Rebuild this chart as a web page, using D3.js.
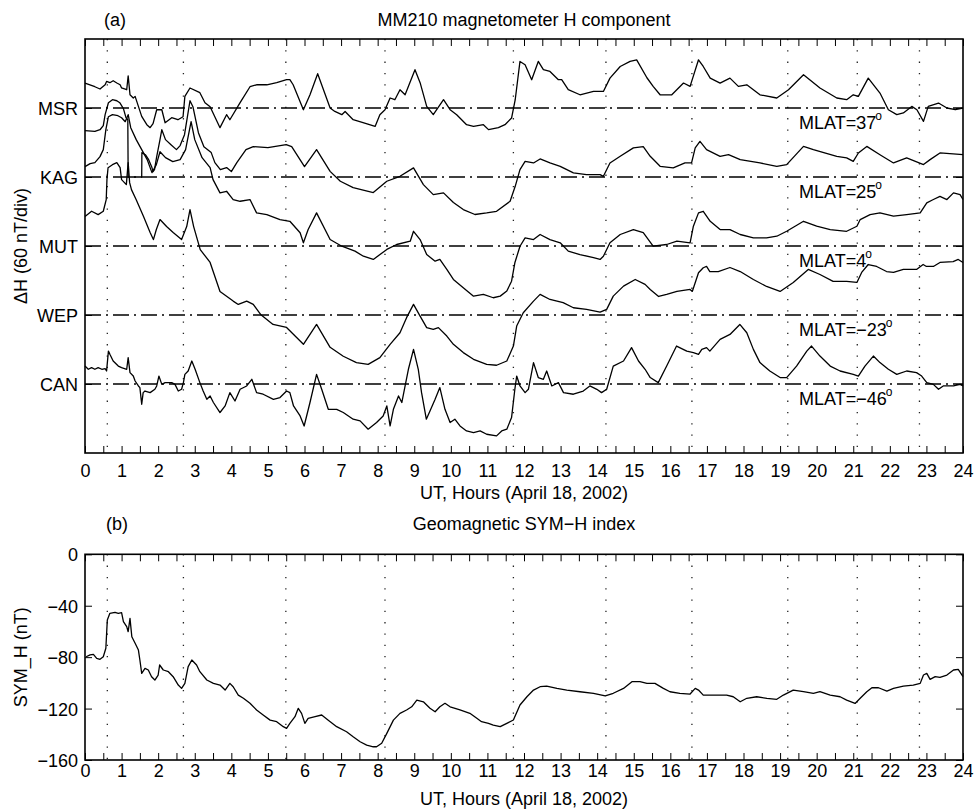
<!DOCTYPE html>
<html><head><meta charset="utf-8">
<script src="https://cdn.jsdelivr.net/npm/d3@7/dist/d3.min.js"></script>
<style>
body{margin:0;background:#fff}
text{font-family:"Liberation Sans",Arial,Helvetica,sans-serif;fill:#000}
</style>
</head><body>
<svg id="chart" width="976" height="812"></svg>
<script>
// ---------------- DATA ----------------
const stations = ["MSR", "KAG", "MUT", "WEP", "CAN"];
const stationOffsets = [300, 240, 180, 120, 60];   // nT position of each station's zero line (60 nT / div)
const mlatLabels = ["MLAT=37", "MLAT=25", "MLAT=4", "MLAT=\u221223", "MLAT=\u221246"];
const eventHours = [0.61, 2.69, 5.49, 8.2, 11.71, 14.24, 16.59, 19.21, 21.11, 22.81];
const hourLabels = d3.range(0, 25, 1);
const symTicks = [-160, -120, -80, -40, 0];

// ΔH (nT) relative to station baseline, [UT hour, nT]
const msrData = [[0,21.7],[0.27,18.5],[0.41,16.5],[0.55,20.2],[0.59,23.1],[0.68,22],[0.77,23.7],[0.87,21.7],[0.96,20.2],[1.0,17.4],
[1.14,15.9],[1.18,28],[1.23,11.5],[1.32,8.7],[1.37,10.1],[1.46,1.4],[1.55,-7.3],[1.69,-14.5],[1.78,-17.1],[1.86,-13.6],
[1.96,-1.5],[2.1,-1.5],[2.19,-12.8],[2.37,-8.4],[2.54,-10.2],[2.68,-7.6],[2.73,10.1],[2.87,17.4],[3.14,13.3],[3.28,4.6],
[3.42,1.1],[3.69,-17.1],[3.87,-5.8],[3.96,-10.2],[4.24,4.6],[4.51,18.5],[4.69,20.2],[4.97,20.2],[5.24,22],[5.51,24.6],
[5.6,24.6],[5.69,20.2],[5.97,-1.5],[6.15,11.5],[6.36,29.8],[6.7,0],[6.83,-3],[7.02,-5.8],[7.11,-3],[7.33,-10.2],
[7.6,-12.8],[7.93,-16],[8.06,-5.8],[8.2,-1.5],[8.34,8.7],[8.47,7.2],[8.61,15.9],[8.75,11.5],[9.02,33.3],[9.16,22],
[9.34,1.4],[9.52,-5.8],[9.8,7.2],[9.98,-1.5],[10.16,-5.8],[10.43,-14.5],[10.62,-16],[10.89,-14.5],[11.03,-18.8],[11.3,-17.1],
[11.48,-14.5],[11.66,-8.7],[11.76,7.2],[11.89,40.5],[12.03,37.6],[12.21,24.6],[12.39,40.5],[12.53,33.3],[12.71,31.8],[12.94,24.6],
[13.03,24.6],[13.21,15.9],[13.53,11.5],[13.9,14.4],[14.17,14.4],[14.35,26],[14.63,36.1],[14.9,40.5],[15.08,41.9],[15.36,26.3],
[15.53,18.8],[15.72,11.5],[16.04,11.5],[16.36,21.7],[16.54,18.8],[16.77,41.9],[16.9,36.1],[17.09,26],[17.36,21.7],[17.63,26],
[17.86,18.8],[18.09,20.2],[18.45,11.5],[18.91,8.7],[19.23,15.9],[19.64,28.9],[20.09,17.4],[20.55,8.7],[20.82,7.2],[21.0,11.5],
[21.14,10.1],[21.41,26],[21.73,13],[21.96,-1.5],[22.19,-5.8],[22.37,-4.3],[22.6,1.4],[22.74,-1.5],[22.92,-11.6],[23.05,1.4],
[23.33,4.3],[23.56,0],[23.79,-1.5],[24,0]];

const kagData = [[0,40.3],[0.27,39.7],[0.41,41.1],[0.5,44.6],[0.55,54.2],[0.64,64.6],[0.75,67.2],[0.87,66.3],[0.95,64.6],[1.05,59.4],
[1.12,51.6],[1.17,49.8],[1.18,0],[1.55,0],[1.555,21.2],[1.65,19.4],[1.74,15.1],[1.83,8.2],[1.86,4.7],[1.9,6.4],
[1.96,17.7],[2.05,32.5],[2.1,41.1],[2.2,32.5],[2.35,28.1],[2.5,23.8],[2.6,27.3],[2.72,36.8],[2.87,66.3],[2.95,61.1],
[3.1,38.5],[3.25,26.4],[3.45,21.2],[3.55,12.5],[3.7,6.4],[3.87,8.2],[4.0,4.7],[4.15,12.5],[4.4,23.8],[4.6,26.4],
[5.0,25.5],[5.5,28.1],[5.65,26.4],[6.0,9],[6.33,23.8],[6.7,4.9],[6.98,-3.7],[7.33,-9.2],[7.88,-13.5],[8.25,-3.7],
[8.61,0.6],[8.98,7.9],[9.25,-6.6],[9.52,-15.3],[9.8,-13.8],[10.07,-22.2],[10.34,-28.3],[10.66,-32.6],[10.98,-31.2],[11.25,-29.8],
[11.62,-21.1],[11.76,-8.1],[11.89,6.4],[12.03,13.6],[12.26,12.2],[12.44,15.7],[12.71,12.2],[12.99,9.3],[13.35,3.6],[13.71,2.1],
[14.08,2.1],[14.17,0.6],[14.35,12.2],[14.63,18],[14.99,25.3],[15.26,26.4],[15.45,18],[15.72,9.3],[16.08,7.9],[16.4,12.2],
[16.58,12.2],[16.68,25.3],[16.81,31],[16.99,23.8],[17.36,18],[17.59,19.4],[17.91,15.1],[18.45,12.2],[18.91,9.3],[19.18,10.8],
[19.64,26.6],[19.91,23.8],[20.55,18],[20.82,16.6],[21.0,13.6],[21.14,20.9],[21.37,26.6],[21.73,19.4],[22.1,12.2],[22.46,16.6],
[22.92,10.8],[23.1,15.1],[23.37,20.9],[24,19.4]];

const mutData = [[0,69],[0.14,71.6],[0.27,72.5],[0.41,77.7],[0.5,83.8],[0.57,101.2],[0.64,112.4],[0.75,114.2],[0.9,113.3],[1.0,111.5],
[1.1,108.1],[1.18,114.2],[1.25,102.9],[1.4,92.5],[1.55,83.8],[1.7,75.1],[1.83,63.8],[1.95,70.7],[2.05,82],[2.2,76.8],
[2.4,73.4],[2.6,75.1],[2.75,83.8],[2.9,108.1],[3.0,92.5],[3.2,76.8],[3.42,68.2],[3.5,57.7],[3.69,46.2],[3.87,47.6],
[4.05,40.4],[4.24,38.9],[4.51,40.4],[4.69,28.8],[4.97,27.3],[5.33,23],[5.6,21.5],[5.88,11.5],[5.97,2.8],[6.1,14.3],
[6.33,28.8],[6.7,5.6],[7.02,-0.2],[7.38,-4.5],[7.61,-8.9],[7.88,-11.7],[8.25,-3],[8.52,1.3],[8.89,4.2],[8.98,12.8],
[9.16,5.6],[9.34,-7.4],[9.57,-13.2],[9.7,-11.7],[9.89,-20.4],[10.07,-29.1],[10.34,-36.3],[10.62,-43.6],[10.89,-42.1],[11.16,-45],
[11.35,-43.6],[11.53,-39.2],[11.66,-30.6],[11.75,-14.6],[11.89,-0.2],[12.03,7.1],[12.26,5.6],[12.44,10],[12.71,5.6],[12.99,2.8],
[13.21,-4.5],[13.53,-7.4],[13.9,-10.2],[14.08,-11.7],[14.17,-8.9],[14.35,2.8],[14.63,10],[14.99,14.3],[15.26,11.7],[15.53,-0.2],
[15.9,1.3],[16.18,4.2],[16.54,2.8],[16.63,17.2],[16.77,28.8],[16.9,30.2],[17.09,21.5],[17.36,14.3],[17.63,14.3],[17.91,10],
[18.27,7.1],[18.63,7.1],[18.91,8.5],[19.18,12.8],[19.64,21.5],[20.0,17.2],[20.37,14.3],[20.82,12.8],[21.1,17.2],[21.19,23],
[21.46,27.3],[21.73,28.8],[22.1,25.9],[22.46,27.3],[22.83,28.8],[23.01,37.5],[23.19,40.4],[23.37,43.2],[23.56,40.4],[23.74,46.2],
[23.92,44.7],[24,40.4]];

const wepData = [[0,85.6],[0.18,90.2],[0.36,87.3],[0.5,90.2],[0.58,100.3],[0.6,117.7],[0.63,128.1],[0.75,130.7],[0.87,132.5],[0.96,128.1],
[1.0,117.7],[1.13,113.4],[1.18,132.5],[1.22,115.1],[1.27,109],[1.4,100.3],[1.6,85.6],[1.78,71.7],[1.87,65.6],[1.95,74.3],
[2.05,83],[2.23,76.9],[2.41,71.7],[2.64,65.6],[2.78,76.9],[2.87,91.7],[2.97,76.9],[3.15,56.9],[3.42,45.7],[3.69,20.5],
[4.05,12.1],[4.19,9.2],[4.42,12.1],[4.6,9.2],[4.8,0.5],[5.14,-8.2],[5.51,-10.8],[5.97,-25.5],[6.33,-8.2],[6.7,-28.1],
[7.06,-35.9],[7.42,-41.4],[7.74,-42.9],[8.06,-37.1],[8.34,-25.5],[8.61,-15.4],[8.79,-2.3],[8.98,9.2],[9.16,-1],[9.34,-11],
[9.52,-12.5],[9.66,-11],[9.89,-18.3],[10.07,-25.5],[10.34,-32.7],[10.62,-38.5],[10.98,-42.9],[11.25,-43.7],[11.53,-40],[11.71,-27],
[11.8,-9.6],[11.98,2],[12.26,12.1],[12.44,17.9],[12.71,13.5],[13.07,10.7],[13.35,6.3],[13.71,4.9],[14.08,2.5],[14.26,4.9],
[14.44,16.4],[14.72,25.1],[15.04,30.9],[15.31,26.6],[15.45,22.2],[15.68,16.1],[15.9,17.9],[16.18,20.5],[16.54,22.2],[16.6,20.5],
[16.77,36.7],[16.9,41.1],[16.99,42.2],[17.08,37.8],[17.31,37.8],[17.63,41.3],[17.91,37.8],[18.27,30.9],[18.63,24.8],[19.0,20.5],
[19.36,28.3],[19.77,39.6],[20.09,35.2],[20.45,29.2],[20.82,29.2],[21.1,28.3],[21.23,37],[21.41,43.9],[21.64,42.2],[21.91,37.8],
[22.1,37],[22.37,39.6],[22.73,39.6],[22.91,43.9],[23.0,42.2],[23.19,42.2],[23.37,45.7],[23.73,46.5],[23.87,48.3],[24,45.7]];

const canData = [[0,15.6],[0.09,12.8],[0.18,14.2],[0.27,12.8],[0.36,14.2],[0.46,12.8],[0.55,13.4],[0.59,11.3],[0.64,28.6],[0.68,25.8],
[0.77,20],[0.91,15.6],[1.0,14.2],[1.14,12.8],[1.18,22.9],[1.23,9.9],[1.32,6.9],[1.37,2.6],[1.46,-1.7],[1.5,-3.1],
[1.55,-17.6],[1.59,-7.5],[1.64,-6.1],[1.78,-7.5],[1.91,-4.6],[1.96,-1.7],[2.02,6.9],[2.1,-0.3],[2.19,1.2],[2.37,1.2],
[2.46,-0.3],[2.55,-6.1],[2.64,-4.6],[2.69,1.2],[2.73,8.4],[2.82,11.3],[2.92,20],[3.01,12.8],[3.14,1.2],[3.23,-6.1],
[3.33,-13.3],[3.42,-10.4],[3.51,-16.1],[3.69,-24.8],[3.83,-19.1],[3.96,-7.5],[4.1,-14.8],[4.24,-4.6],[4.42,-1.7],[4.56,4.1],
[4.69,-7.5],[4.87,-8.9],[5.15,-13.3],[5.33,-11.8],[5.51,-6.1],[5.6,-7.5],[5.7,-19.1],[5.88,-27.8],[5.99,-36.5],[6.15,-16.1],
[6.33,8.4],[6.47,-4.6],[6.65,-22],[6.88,-22],[7.06,-24.8],[7.33,-30.6],[7.52,-32.1],[7.74,-39.3],[7.97,-33.5],[8.15,-27.8],
[8.25,-19.1],[8.34,-36.5],[8.43,-22],[8.57,-10.4],[8.66,-16.1],[8.75,-1.7],[8.84,12.8],[8.98,30.1],[9.11,12.8],[9.2,-7.5],
[9.33,-30.6],[9.43,-23.4],[9.57,-13.3],[9.7,-3.1],[9.84,-22],[9.98,-33.5],[10.11,-30.6],[10.25,-36.5],[10.43,-40.8],[10.62,-42.2],
[10.8,-40.8],[10.98,-43.7],[11.25,-45.1],[11.39,-40.8],[11.53,-39.3],[11.66,-29.2],[11.75,-4.6],[11.8,6.9],[11.89,-1.7],[12.03,-7.5],
[12.12,-4.6],[12.26,18.6],[12.39,5.6],[12.53,4.1],[12.62,11.3],[12.76,-1.7],[12.94,1.2],[13.08,-7.5],[13.35,-8.9],[13.62,-6.1],
[13.8,-1.7],[13.99,-4.6],[14.12,-7.5],[14.26,-4.6],[14.44,15.6],[14.72,20],[14.94,31.6],[15.13,20],[15.31,12.8],[15.45,5.6],
[15.67,1.2],[15.9,15.6],[16.17,33],[16.45,28.6],[16.63,27.3],[16.77,25.8],[16.86,30.1],[16.99,31.6],[17.08,28.6],[17.36,38.8],
[17.63,43.1],[17.9,51.8],[18.09,44.6],[18.27,30.1],[18.45,18.6],[18.72,11.3],[19.0,5.6],[19.18,5.6],[19.45,15.6],[19.73,28.6],
[19.86,33],[20.09,24.3],[20.37,15.6],[20.64,11.3],[21.0,8.4],[21.14,6.9],[21.32,15.6],[21.55,24.3],[21.73,18.6],[21.96,12.8],
[22.19,8.4],[22.46,11.3],[22.73,9.9],[22.87,6.9],[23.01,1.2],[23.19,-0.3],[23.33,-4.6],[23.46,-1.7],[23.74,-1.7],[23.92,-0.3],[24,-1.7]];

const stationData = [msrData, kagData, mutData, wepData, canData];

// SYM-H index (nT), [UT hour, nT]
const symhData = [[0.03,-79.7],[0.14,-78.3],[0.23,-77.8],[0.32,-80.9],[0.41,-81.7],[0.5,-79.7],[0.57,-73.1],[0.61,-51.1],[0.68,-45.9],[0.82,-45.1],
[0.91,-45.9],[1.0,-45.4],[1.05,-52.4],[1.14,-56.3],[1.18,-60.2],[1.23,-49.8],[1.28,-64.1],[1.37,-69.2],[1.46,-74.5],[1.5,-82.2],
[1.55,-92.6],[1.64,-88.7],[1.73,-90],[1.82,-95.2],[1.91,-97.8],[2.0,-93.9],[2.04,-86.1],[2.14,-90],[2.28,-91.3],[2.41,-95.2],
[2.55,-101.7],[2.64,-104.3],[2.73,-100.4],[2.82,-87.4],[2.92,-82.2],[3.05,-86.1],[3.14,-91.3],[3.33,-97.8],[3.51,-100.4],[3.69,-101.7],
[3.83,-105.6],[3.96,-100.4],[4.05,-103],[4.19,-109.5],[4.33,-112],[4.51,-115.9],[4.69,-121.1],[4.87,-125],[5.06,-129],[5.24,-130.2],
[5.42,-134.1],[5.51,-135.4],[5.6,-131.5],[5.74,-126.3],[5.83,-119.8],[5.92,-123.7],[6.01,-131.5],[6.1,-127.6],[6.29,-126.3],[6.47,-125],
[6.65,-129],[6.88,-134.1],[7.15,-138],[7.33,-141.9],[7.52,-145.8],[7.7,-148.4],[7.88,-149.7],[7.97,-149.7],[8.11,-147],[8.25,-139.3],
[8.43,-129],[8.61,-123.7],[8.79,-121.1],[8.93,-118.6],[9.07,-113.4],[9.25,-114.7],[9.43,-119.8],[9.57,-122.5],[9.7,-118.6],[9.84,-115.9],
[9.98,-118.6],[10.25,-121.1],[10.52,-123.7],[10.71,-127.6],[10.84,-130.2],[11.03,-131.5],[11.16,-132.8],[11.35,-134.1],[11.53,-131.5],[11.71,-128.9],
[11.89,-117.2],[12.08,-110.8],[12.26,-105.6],[12.44,-103],[12.62,-102.5],[12.9,-104.3],[13.17,-105.6],[13.53,-106.9],[13.9,-108.1],[14.22,-110.2],
[14.44,-108.1],[14.72,-104.3],[14.95,-99.1],[15.17,-99.1],[15.36,-100.4],[15.58,-100.4],[15.81,-104.3],[15.99,-106.9],[16.26,-108.1],[16.54,-108.7],
[16.68,-104.3],[16.77,-105.6],[16.9,-109.5],[17.18,-109.5],[17.54,-109.5],[17.72,-110.8],[17.91,-114.7],[18.09,-112],[18.36,-110.8],[18.64,-112],
[18.91,-112.8],[19.09,-109.5],[19.36,-105.6],[19.64,-106.9],[19.91,-108.1],[20.09,-106.9],[20.37,-109.5],[20.64,-110.8],[20.82,-113.4],[21.05,-116],
[21.19,-112],[21.37,-106.9],[21.51,-103.8],[21.69,-103.8],[21.92,-106.4],[22.1,-104.3],[22.37,-102.5],[22.64,-101.7],[22.83,-100.4],[22.92,-93.9],
[23.01,-92.6],[23.1,-97.3],[23.24,-95.2],[23.37,-95.7],[23.56,-93.9],[23.74,-90],[23.87,-89.5],[24.0,-95.2]];

// ---------------- LAYOUT ----------------
const FONT = '"Liberation Sans", Arial, Helvetica, sans-serif';
const svg = d3.select("#chart");
const L = 85, R = 963;
const topA = 39, botA = 453;
const topB = 554.3, botB = 760;

const x = d3.scaleLinear().domain([0, 24]).range([L, R]);
const yA = d3.scaleLinear().domain([0, 360]).range([botA, topA]);
const yB = d3.scaleLinear().domain([-160, 0]).range([botB, topB]);
const halfHours = d3.range(0, 24.01, 0.5);

function styleAxis(g) {
  g.select(".domain").remove();
  g.selectAll(".tick line").attr("stroke", "#000").attr("stroke-width", 1);
  g.selectAll("text").attr("font-family", FONT).attr("font-size", 18).attr("fill", "#000");
}

function xAxes(top, bot) {
  const gb = svg.append("g").attr("transform", `translate(0,${bot})`)
    .call(d3.axisBottom(x).tickValues(halfHours).tickSize(-7)
      .tickFormat(d => Number.isInteger(d) && hourLabels.includes(d) ? d : ""));
  styleAxis(gb);
  gb.selectAll("text").attr("dy", null).attr("y", 0);
  const gt = svg.append("g").attr("transform", `translate(0,${top})`)
    .call(d3.axisTop(x).tickValues(halfHours).tickSize(-7).tickFormat(""));
  styleAxis(gt);
  return gb;
}

// ---------- Panel (a) ----------
// dotted event lines
svg.append("g").selectAll("line").data(eventHours).join("line")
  .attr("x1", d => x(d)).attr("x2", d => x(d)).attr("y1", topA).attr("y2", botA)
  .attr("stroke", "#222").attr("stroke-width", 1.3).attr("stroke-dasharray", "1.3,10");

// dash-dot station zero lines
svg.append("g").selectAll("line").data(stationOffsets).join("line")
  .attr("x1", L).attr("x2", R).attr("y1", d => yA(d)).attr("y2", d => yA(d))
  .attr("stroke", "#000").attr("stroke-width", 1.3).attr("stroke-dasharray", "16,5,2,5");

const lineA = (off) => d3.line().x(d => x(d[0])).y(d => yA(off + d[1]));
svg.append("g").selectAll("path").data(stationData).join("path")
  .attr("d", (d, i) => lineA(stationOffsets[i])(d))
  .attr("fill", "none").attr("stroke", "#000").attr("stroke-width", 1.3).attr("stroke-linejoin", "round");

// frame
svg.append("rect").attr("x", L).attr("y", topA).attr("width", R - L).attr("height", botA - topA)
  .attr("fill", "none").attr("stroke", "#000").attr("stroke-width", 1.6);

const gbA = xAxes(topA, botA);
gbA.selectAll("text").attr("y", 24);

// y axis (station names)
const gyA = svg.append("g").attr("transform", `translate(${L},0)`)
  .call(d3.axisLeft(yA).tickValues(stationOffsets).tickSize(-7).tickPadding(7)
    .tickFormat((d, i) => stations[i]));
styleAxis(gyA);
gyA.selectAll("text").attr("dy", "0.36em");
const gyA2 = svg.append("g").attr("transform", `translate(${R},0)`)
  .call(d3.axisRight(yA).tickValues(stationOffsets).tickSize(-7).tickFormat(""));
styleAxis(gyA2);

// MLAT labels
mlatLabels.forEach((m, i) => {
  const t = svg.append("text").attr("x", 799).attr("y", yA(stationOffsets[i]) + 20.5)
    .attr("font-family", FONT).attr("font-size", 18);
  t.append("tspan").text(m);
  t.append("tspan").attr("font-size", 12).attr("dy", -9).attr("dx", -1).text("o");
});

svg.append("text").attr("x", 104).attr("y", 26).attr("font-family", FONT).attr("font-size", 18).text("(a)");
svg.append("text").attr("x", (L + R) / 2).attr("y", 26).attr("text-anchor", "middle")
  .attr("font-family", FONT).attr("font-size", 18).text("MM210 magnetometer H component");
svg.append("text").attr("x", (L + R) / 2).attr("y", 499).attr("text-anchor", "middle")
  .attr("font-family", FONT).attr("font-size", 18).text("UT, Hours (April 18, 2002)");
svg.append("text").attr("transform", `translate(27,${(topA + botA) / 2}) rotate(-90)`)
  .attr("text-anchor", "middle").attr("font-family", FONT).attr("font-size", 18).text("\u0394H (60 nT/div)");

// ---------- Panel (b) ----------
svg.append("g").selectAll("line").data(eventHours).join("line")
  .attr("x1", d => x(d)).attr("x2", d => x(d)).attr("y1", topB).attr("y2", botB)
  .attr("stroke", "#222").attr("stroke-width", 1.3).attr("stroke-dasharray", "1.3,10");

svg.append("path").datum(symhData)
  .attr("d", d3.line().x(d => x(d[0])).y(d => yB(d[1])))
  .attr("fill", "none").attr("stroke", "#000").attr("stroke-width", 1.3).attr("stroke-linejoin", "round");

svg.append("rect").attr("x", L).attr("y", topB).attr("width", R - L).attr("height", botB - topB)
  .attr("fill", "none").attr("stroke", "#000").attr("stroke-width", 1.6);

const gbB = xAxes(topB, botB);
gbB.selectAll("text").attr("y", 17);

const gyB = svg.append("g").attr("transform", `translate(${L},0)`)
  .call(d3.axisLeft(yB).tickValues(symTicks).tickSize(-7).tickPadding(7)
    .tickFormat(d => d < 0 ? "\u2212" + Math.abs(d) : String(d)));
styleAxis(gyB);
gyB.selectAll("text").attr("dy", "0.36em");
const gyB2 = svg.append("g").attr("transform", `translate(${R},0)`)
  .call(d3.axisRight(yB).tickValues(symTicks).tickSize(-7).tickFormat(""));
styleAxis(gyB2);

svg.append("text").attr("x", 106).attr("y", 530).attr("font-family", FONT).attr("font-size", 18).text("(b)");
svg.append("text").attr("x", (L + R) / 2).attr("y", 530).attr("text-anchor", "middle")
  .attr("font-family", FONT).attr("font-size", 18).text("Geomagnetic SYM\u2212H index");
svg.append("text").attr("x", (L + R) / 2).attr("y", 805).attr("text-anchor", "middle")
  .attr("font-family", FONT).attr("font-size", 18).text("UT, Hours (April 18, 2002)");
svg.append("text").attr("transform", `translate(27,${(topB + botB) / 2}) rotate(-90)`)
  .attr("text-anchor", "middle").attr("font-family", FONT).attr("font-size", 18).text("SYM_H (nT)");
</script>
</body></html>
